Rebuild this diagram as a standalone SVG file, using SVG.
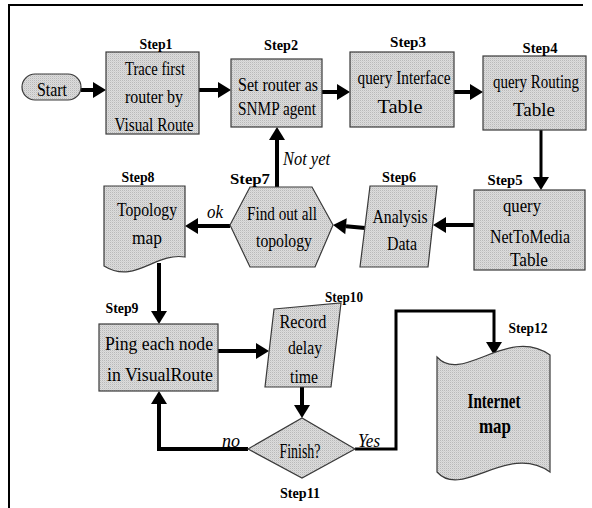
<svg xmlns="http://www.w3.org/2000/svg" width="592" height="508" viewBox="0 0 592 508">
  <style>
    .node { fill: url(#dither); stroke: #3a3a3a; stroke-width: 1.2; }
    .txt { font-family: "Liberation Serif", "Times New Roman", serif; font-size: 19px; fill: #000; text-anchor: middle; }
    .step { font-family: "Liberation Serif", "Times New Roman", serif; font-size: 15px; font-weight: bold; fill: #000; text-anchor: middle; }
    .big { font-family: "Liberation Serif", "Times New Roman", serif; font-size: 22px; font-weight: bold; fill: #000; text-anchor: middle; }
    .cond { font-family: "Liberation Serif", "Times New Roman", serif; font-size: 18px; font-style: italic; fill: #000; }
    .wire { fill: none; stroke: #000; stroke-width: 4; marker-end: url(#head); }
    .thin { stroke-width: 3; }
  </style>
  <defs>
    <pattern id="dither" width="2" height="2" patternUnits="userSpaceOnUse">
      <rect width="2" height="2" fill="#dcdcdc"/>
      <rect width="1" height="1" fill="#b9b9b9"/>
      <rect x="1" y="1" width="1" height="1" fill="#d0d0d0"/>
    </pattern>
    <marker id="head" markerUnits="userSpaceOnUse" markerWidth="15" markerHeight="18" refX="0" refY="8" orient="auto" overflow="visible">
      <path d="M0,0 L13,8 L0,16 Z" fill="#000"/>
    </marker>
  </defs>

  <rect width="592" height="508" fill="#fff"/>
  <!-- page frame (left and top edges only) -->
  <path d="M9,508 L9,5 L583,5" fill="none" stroke="#000" stroke-width="2"/>

  <g id="connectors">
    <path class="wire" d="M81,90 L93,90"/>
    <path class="wire" d="M199,90 L218,90"/>
    <path class="wire" d="M322,92 L337,92"/>
    <path class="wire" d="M454,92 L470,92"/>
    <path class="wire thin" d="M541,130 L541,177"/>
    <path class="wire" d="M474,225 L446,225"/>
    <path class="wire" d="M365,228 L346,226.2"/>
    <path class="wire" d="M230,226 L198,226"/>
    <path class="wire" d="M277,187 L277,140"/>
    <path class="wire" d="M159,263 L159,311"/>
    <path class="wire" d="M218,351 L256,351"/>
    <path class="wire" d="M302,387 L302,405"/>
    <path class="wire" d="M248,449 L159,449 L159,404"/>
    <path class="wire thin" d="M355,449 L396,449 L396,311 L494,311 L494,342"/>
    <text class="cond" x="283" y="165" textLength="47" lengthAdjust="spacingAndGlyphs">Not yet</text>
    <text class="cond" x="207" y="218" textLength="16" lengthAdjust="spacingAndGlyphs">ok</text>
    <text class="cond" x="222" y="447" textLength="18" lengthAdjust="spacingAndGlyphs">no</text>
    <text class="cond" x="358" y="447" textLength="22" lengthAdjust="spacingAndGlyphs">Yes</text>
  </g>

  <g id="start">
    <rect class="node" x="22" y="74" width="59" height="26" rx="13" ry="13"/>
    <text class="txt" x="52" y="96" textLength="30" lengthAdjust="spacingAndGlyphs">Start</text>
  </g>

  <g id="step1">
    <rect class="node" x="106" y="52" width="93" height="82"/>
    <text class="step" x="156" y="49" textLength="33" lengthAdjust="spacingAndGlyphs">Step1</text>
    <text class="txt" x="155" y="75" textLength="60" lengthAdjust="spacingAndGlyphs">Trace first</text>
    <text class="txt" x="154" y="103" textLength="58" lengthAdjust="spacingAndGlyphs">router by</text>
    <text class="txt" x="154" y="131" textLength="79" lengthAdjust="spacingAndGlyphs">Visual Route</text>
  </g>

  <g id="step2">
    <rect class="node" x="231" y="59" width="91" height="68"/>
    <text class="step" x="281" y="50" textLength="34" lengthAdjust="spacingAndGlyphs">Step2</text>
    <text class="txt" x="278" y="91" textLength="80" lengthAdjust="spacingAndGlyphs">Set router as</text>
    <text class="txt" x="277" y="115" textLength="78" lengthAdjust="spacingAndGlyphs">SNMP agent</text>
  </g>

  <g id="step3">
    <rect class="node" x="350" y="52" width="104" height="75"/>
    <text class="step" x="408" y="47" textLength="36" lengthAdjust="spacingAndGlyphs">Step3</text>
    <text class="txt" x="404" y="84" textLength="93" lengthAdjust="spacingAndGlyphs">query Interface</text>
    <text class="txt" x="400" y="113" textLength="45" lengthAdjust="spacingAndGlyphs">Table</text>
  </g>

  <g id="step4">
    <rect class="node" x="483" y="56" width="103" height="74"/>
    <text class="step" x="540" y="53" textLength="35" lengthAdjust="spacingAndGlyphs">Step4</text>
    <text class="txt" x="536" y="88" textLength="86" lengthAdjust="spacingAndGlyphs">query Routing</text>
    <text class="txt" x="534" y="116" textLength="42" lengthAdjust="spacingAndGlyphs">Table</text>
  </g>

  <g id="step5">
    <rect class="node" x="474" y="190" width="111" height="80"/>
    <text class="step" x="505" y="185" textLength="35" lengthAdjust="spacingAndGlyphs">Step5</text>
    <text class="txt" x="522" y="212" textLength="38" lengthAdjust="spacingAndGlyphs">query</text>
    <text class="txt" x="530" y="243" textLength="80" lengthAdjust="spacingAndGlyphs">NetToMedia</text>
    <text class="txt" x="529" y="266" textLength="38" lengthAdjust="spacingAndGlyphs">Table</text>
  </g>

  <g id="step6">
    <polygon class="node" points="370,186 437,186 428,267 360,267"/>
    <text class="step" x="399" y="182" textLength="34" lengthAdjust="spacingAndGlyphs">Step6</text>
    <text class="txt" x="400" y="223" textLength="55" lengthAdjust="spacingAndGlyphs">Analysis</text>
    <text class="txt" x="402" y="250" textLength="30" lengthAdjust="spacingAndGlyphs">Data</text>
  </g>

  <g id="step7">
    <polygon class="node" points="230,225 250,187 312,187 333,225 315,267 250,267"/>
    <text class="step" x="250" y="184" textLength="40" lengthAdjust="spacingAndGlyphs">Step7</text>
    <text class="txt" x="282" y="220" textLength="70" lengthAdjust="spacingAndGlyphs">Find out all</text>
    <text class="txt" x="284" y="247" textLength="56" lengthAdjust="spacingAndGlyphs">topology</text>
  </g>

  <g id="step8">
    <path class="node" d="M104,186 L185,186 L185,257 C155,252 135,285 104,266 Z"/>
    <text class="step" x="138" y="182" textLength="33" lengthAdjust="spacingAndGlyphs">Step8</text>
    <text class="txt" x="147" y="216" textLength="60" lengthAdjust="spacingAndGlyphs">Topology</text>
    <text class="txt" x="147" y="244" textLength="30" lengthAdjust="spacingAndGlyphs">map</text>
  </g>

  <g id="step9">
    <rect class="node" x="99" y="324" width="119" height="67"/>
    <text class="step" x="122" y="313" textLength="33" lengthAdjust="spacingAndGlyphs">Step9</text>
    <text class="txt" x="159" y="350" textLength="108" lengthAdjust="spacingAndGlyphs">Ping each node</text>
    <text class="txt" x="160" y="381" textLength="106" lengthAdjust="spacingAndGlyphs">in VisualRoute</text>
  </g>

  <g id="step10">
    <polygon class="node" points="274,309 341,303 331,387 265,387"/>
    <text class="step" x="344" y="302" textLength="38" lengthAdjust="spacingAndGlyphs">Step10</text>
    <text class="txt" x="303" y="328" textLength="47" lengthAdjust="spacingAndGlyphs">Record</text>
    <text class="txt" x="305" y="354" textLength="34" lengthAdjust="spacingAndGlyphs">delay</text>
    <text class="txt" x="304" y="383" textLength="28" lengthAdjust="spacingAndGlyphs">time</text>
  </g>

  <g id="step11">
    <polygon class="node" points="248,449 302,418 355,449 302,478"/>
    <text class="txt" x="300" y="458" textLength="41" lengthAdjust="spacingAndGlyphs" style="font-size:20px">Finish?</text>
    <text class="step" x="300" y="498" textLength="40" lengthAdjust="spacingAndGlyphs">Step11</text>
  </g>

  <g id="step12">
    <path class="node" d="M437,357 C462,385 508,325 550,355 L550,472 C508,442 462,500 437,472 Z"/>
    <text class="step" x="528" y="333" textLength="39" lengthAdjust="spacingAndGlyphs">Step12</text>
    <text class="big" x="494" y="408" textLength="53" lengthAdjust="spacingAndGlyphs">Internet</text>
    <text class="big" x="495" y="433" textLength="32" lengthAdjust="spacingAndGlyphs">map</text>
  </g>
</svg>
